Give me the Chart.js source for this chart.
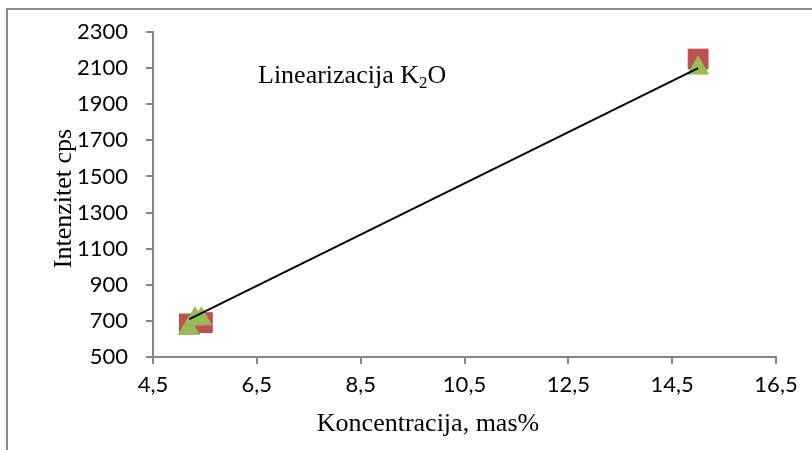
<!DOCTYPE html>
<html>
<head>
<meta charset="utf-8">
<script src="https://cdn.jsdelivr.net/npm/chart.js@4.4.0/dist/chart.umd.min.js"></script>
<style>
  html, body { margin: 0; padding: 0; background: #fff; }
  #wrap { position: relative; width: 812px; height: 450px; overflow: hidden; }
  #frame { position: absolute; left: 6px; top: 8px; width: 900px; height: 500px;
           border-top: 2px solid #8a8a8a; border-left: 2px solid #8a8a8a; }
  canvas { position: absolute; left: 0; top: 0; }
</style>
</head>
<body>
<div id="wrap">
  <div id="frame"></div>
  <canvas id="chart" width="812" height="450"></canvas>
</div>
<script>
// tick values
const xTicks = [4.5, 6.5, 8.5, 10.5, 12.5, 14.5, 16.5];
const yTicks = [500, 700, 900, 1100, 1300, 1500, 1700, 1900, 2100, 2300];

// measured points (mostly overlapping)
const blueX = [5.44, 15.0];
const blueY = [716, 2140];
const redX = [5.2, 5.45, 15.0];
const redY = [683, 690, 2150];
const greenX = [5.19, 5.31, 5.43, 15.0];
const greenY = [658, 711, 711, 2100];

// linear trendline end points
const trendX = [5.2, 15.0];
const trendY = [710, 2100];

const toPts = (xs, ys) => xs.map((x, i) => ({ x: x, y: ys[i] }));

const axisColor = '#868686';
const tickFont = { family: 'Lato', size: 22 };
const serif = '26px "Liberation Serif"';

// axis titles and the text box inside the plot
const texts = {
  id: 'texts',
  afterDraw(chart) {
    const ctx = chart.ctx;
    const area = chart.chartArea;
    ctx.save();
    ctx.fillStyle = '#000';

    ctx.font = serif;
    ctx.textAlign = 'center';
    ctx.textBaseline = 'middle';
    ctx.fillText('Koncentracija, mas%', 428, 424);

    ctx.save();
    ctx.translate(64, (area.top + area.bottom) / 2 + 4);
    ctx.rotate(-Math.PI / 2);
    ctx.fillText('Intenzitet cps', 0, 0);
    ctx.restore();

    ctx.textAlign = 'left';
    ctx.textBaseline = 'alphabetic';
    let x = 258, y = 83;
    const main = 'Linearizacija K';
    ctx.fillText(main, x, y);
    x += ctx.measureText(main).width;
    ctx.font = '17px "Liberation Serif"';
    ctx.fillText('2', x, y + 5);
    x += ctx.measureText('2').width;
    ctx.font = serif;
    ctx.fillText('O', x, y);
    ctx.restore();
  }
};

new Chart(document.getElementById('chart'), {
  type: 'scatter',
  data: {
    datasets: [
      {
        type: 'line',
        data: toPts(trendX, trendY),
        borderColor: '#000',
        borderWidth: 2,
        pointRadius: 0,
        fill: false
      },
      {
        data: toPts(greenX, greenY),
        pointStyle: 'triangle',
        pointRadius: 12,
        backgroundColor: '#9BBB59',
        borderColor: '#98B954',
        borderWidth: 1
      },
      {
        data: toPts(redX, redY),
        pointStyle: 'rect',
        pointRadius: 14,
        backgroundColor: '#C0504D',
        borderColor: '#BE4B48',
        borderWidth: 1
      },
      {
        data: toPts(blueX, blueY),
        pointStyle: 'rectRot',
        pointRadius: 9,
        backgroundColor: '#4F81BD',
        borderColor: '#4A7EBB',
        borderWidth: 1
      }
    ]
  },
  options: {
    responsive: false,
    animation: false,
    layout: { padding: { left: 0, top: 32, right: 36, bottom: 0 } },
    plugins: { legend: { display: false }, tooltip: { enabled: false } },
    scales: {
      x: {
        type: 'linear',
        min: 4.5,
        max: 16.5,
        afterBuildTicks: s => { s.ticks = xTicks.map(v => ({ value: v })); },
        afterFit: s => { s.height = 93; },
        ticks: {
          color: '#000',
          font: tickFont,
          padding: 8,
          callback: v => v.toFixed(1).replace('.', ',')
        },
        grid: { drawOnChartArea: false, tickLength: 7, color: axisColor, lineWidth: 2 },
        border: { color: axisColor, width: 2 }
      },
      y: {
        min: 500,
        max: 2300,
        afterBuildTicks: s => { s.ticks = yTicks.map(v => ({ value: v })); },
        afterFit: s => { s.width = 153; },
        ticks: { color: '#000', font: tickFont, padding: 18, callback: v => String(v) },
        grid: { drawOnChartArea: false, tickLength: 7, color: axisColor, lineWidth: 2 },
        border: { color: axisColor, width: 2 }
      }
    }
  },
  plugins: [texts]
});
</script>
</body>
</html>
